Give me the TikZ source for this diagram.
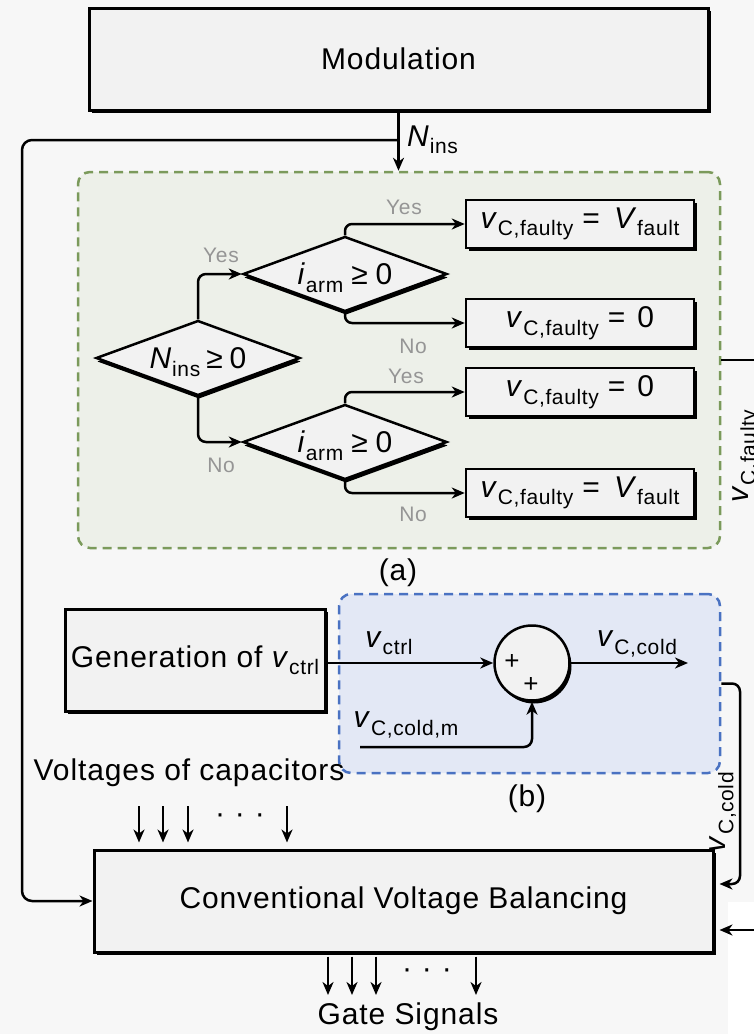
\documentclass[tikz,border=0pt]{standalone}
\usepackage{fontspec}
\setmainfont[LetterSpace=3]{Liberation Sans}
\usetikzlibrary{arrows.meta,shapes.geometric,shadows,calc}
\definecolor{bgc}{HTML}{F7F7F7}
\definecolor{boxc}{HTML}{F2F2F2}
\definecolor{gfill}{HTML}{EDF0E9}
\definecolor{gline}{HTML}{7B9A5B}
\definecolor{bfill}{HTML}{E3E8F5}
\definecolor{bline}{HTML}{4A72C2}
\definecolor{gtxt}{HTML}{959595}
\newcommand\vsub[1]{\raisebox{-0.25em}{\fontsize{21}{21}\selectfont #1}}
\newcommand\iv[1]{\textit{#1}}
\newcommand\dtext[1]{\smash{\makebox[0pt]{\raisebox{-0.36em}{#1}}}}
\begin{document}
\begin{tikzpicture}[x=1pt,y=-1pt,
  font=\fontsize{30}{36}\selectfont,
  conn/.style={line width=2.5pt},
  arr/.style={conn,-{Stealth[length=13pt,width=11pt,inset=4pt]}},
  shd/.style={drop shadow={shadow xshift=3pt,shadow yshift=-3pt,fill=black,opacity=1}},
  blk/.style={draw, line width=3pt, fill=boxc, inner sep=0pt, shd},
  resbox/.style={draw, line width=2.5pt, fill=boxc, inner sep=0pt, minimum width=228pt, minimum height=48pt, shd},
  dia/.style={shape=diamond, draw, line width=2.5pt, fill=boxc, minimum width=204pt, minimum height=75pt, inner sep=0pt,
     drop shadow={shadow xshift=1pt,shadow yshift=-3.5pt,fill=black,opacity=1}},
  lbl/.style={text=gtxt, font=\fontsize{21}{24}\selectfont, inner sep=0pt},
  dashbox/.style={line width=2.5pt, dash pattern=on 9pt off 6pt, rounded corners=12pt, inner sep=0pt},
  txt/.style={inner sep=0pt}
]
\useasboundingbox (0,0) rectangle (754,1034);
\clip (0,0) rectangle (754,1034);
\fill[bgc] (0,0) rectangle (754,1034);
\fill[white] (728,902) rectangle (754,1034);

% boxes
\node[blk, minimum width=619pt, minimum height=102pt] (mod) at (398.5,59) {Modulation};
\node[dashbox, draw=gline, fill=gfill, minimum width=642pt, minimum height=376pt] (ga) at (399,360) {};
\node[dashbox, draw=bline, fill=bfill, minimum width=381pt, minimum height=179pt] (bb) at (529.5,683.5) {};
\node[blk, minimum width=619pt, minimum height=102pt] (cvb) at (403.5,901) {Conventional Voltage Balancing};
\node[blk, minimum width=260pt, minimum height=102pt] (gen) at (195,660) {Generation of \iv{v}\vsub{ctrl}};

% decision tree
\node[dia] (A) at (198,358) {\dtext{\iv{N}\vsub{ins}\hspace{6pt}≥\hspace{7pt}0}};
\node[dia] (B) at (345,274) {\dtext{\iv{i}\vsub{arm}\hspace{8pt}≥\hspace{8pt}0}};
\node[dia] (C) at (345,442) {\dtext{\iv{i}\vsub{arm}\hspace{8pt}≥\hspace{8pt}0}};
\node[resbox] (r1) at (580,224) {\iv{v}\vsub{C,faulty}\hspace{9pt}=\hspace{14pt}\iv{V}\vsub{fault}};
\node[resbox] (r2) at (580,323) {\iv{v}\vsub{C,faulty}\hspace{9pt}=\hspace{12pt}0};
\node[resbox] (r3) at (580,392) {\iv{v}\vsub{C,faulty}\hspace{9pt}=\hspace{12pt}0};
\node[resbox] (r4) at (580,493) {\iv{v}\vsub{C,faulty}\hspace{9pt}=\hspace{14pt}\iv{V}\vsub{fault}};

\draw[arr, rounded corners=8pt] (A.north) |- (B.west);
\draw[arr, rounded corners=8pt] (A.south) |- (C.west);
\draw[arr, rounded corners=7pt] (B.north) |- (r1.west);
\draw[arr, rounded corners=7pt] (B.south) |- (r2.west);
\draw[arr, rounded corners=7pt] (C.north) |- (r3.west);
\draw[arr, rounded corners=7pt] (C.south) |- (r4.west);

\node[lbl] (y1) at (404,207) {Yes};
\node[lbl] (y2) at (221,255) {Yes};
\node[lbl] (n1) at (413,346) {No};
\node[lbl] (y3) at (406,376) {Yes};
\node[lbl] (n2) at (221,465) {No};
\node[lbl] (n3) at (413,514) {No};

\node[txt] (la) at (398,573) {(a)};
\node[txt] (lb) at (527,799) {(b)};

% Nins
\draw[arr] (mod.south) -- (mod.south |- ga.north);
\node[txt, anchor=west] (nins) at (407,140) {\iv{N}\vsub{ins}};
\coordinate (tap) at (mod.south |- 0,140);
\coordinate (lft) at (22,0);
\draw[arr, rounded corners=10pt] (tap) -| (cvb.west -| lft) -- (cvb.west);

% right side of (a)
\coordinate (rf) at (770,0);
\draw[conn] (ga.east) -- (ga.east -| rf);
\node[txt, rotate=90] (vfl) at (746,456) {\iv{v}\vsub{C,faulty}};

% (b)
\node[circle, draw, line width=2.5pt, fill=boxc, minimum size=75pt, inner sep=0pt,
  drop shadow={shadow xshift=2pt,shadow yshift=-3pt,fill=black,opacity=1}] (sum) at (532,663) {};
\node[txt, font=\fontsize{26}{26}\selectfont] (p1) at (512,662) {+};
\node[txt, font=\fontsize{26}{26}\selectfont] (p2) at (531,685) {+};
\draw[arr] (gen.east |- sum.west) -- (sum.west);
\node[txt] (lvc) at (389,643) {\iv{v}\vsub{ctrl}};
\coordinate (out) at (688,663);
\draw[arr] (sum.east) -- (out);
\node[txt] (lvo) at (637,644) {\iv{v}\vsub{C,cold}};
\coordinate (cm) at (360,747);
\draw[arr, rounded corners=8pt] (cm) -| (sum.south);
\node[txt] (lvm) at (406,725) {\iv{v}\vsub{C,cold,m}};

% right connector to CVB
\coordinate (rc) at (740,0);
\coordinate (cin) at ($(cvb.east)+(5,-17)$);
\draw[arr, rounded corners=8pt] (bb.east) -- (bb.east -| rc) -- (rc |- cin) -- (cin);
\node[txt, rotate=90] (lvr) at (723,812) {\iv{v}\vsub{C,cold}};
\coordinate (cin2) at ($(cvb.east)+(5,29)$);
\coordinate (rin) at (cin2 -| rf);
\draw[arr] (rin) -- (cin2);

% capacitor voltages
\node[txt] (vcap) at (189,773) {Voltages of capacitors};
\foreach \x [count=\i] in {139,163,188,287} {
  \coordinate (t\i) at (\x,806);
  \draw[arr] (t\i) -- ($(t\i |- cvb.north)+(0,-6)$);
}
\node[txt] (d1) at (240,819) {·\hspace{10pt}·\hspace{10pt}·};
\foreach \x [count=\i] in {328,352,376,476} {
  \coordinate (o\i) at (\x,995);
  \draw[arr] ($(o\i |- cvb.south)+(0,3)$) -- (o\i);
}
\node[txt] (d2) at (427,974) {·\hspace{10pt}·\hspace{10pt}·};
\node[txt] (gs) at (408,1017) {Gate Signals};
\end{tikzpicture}
\end{document}
